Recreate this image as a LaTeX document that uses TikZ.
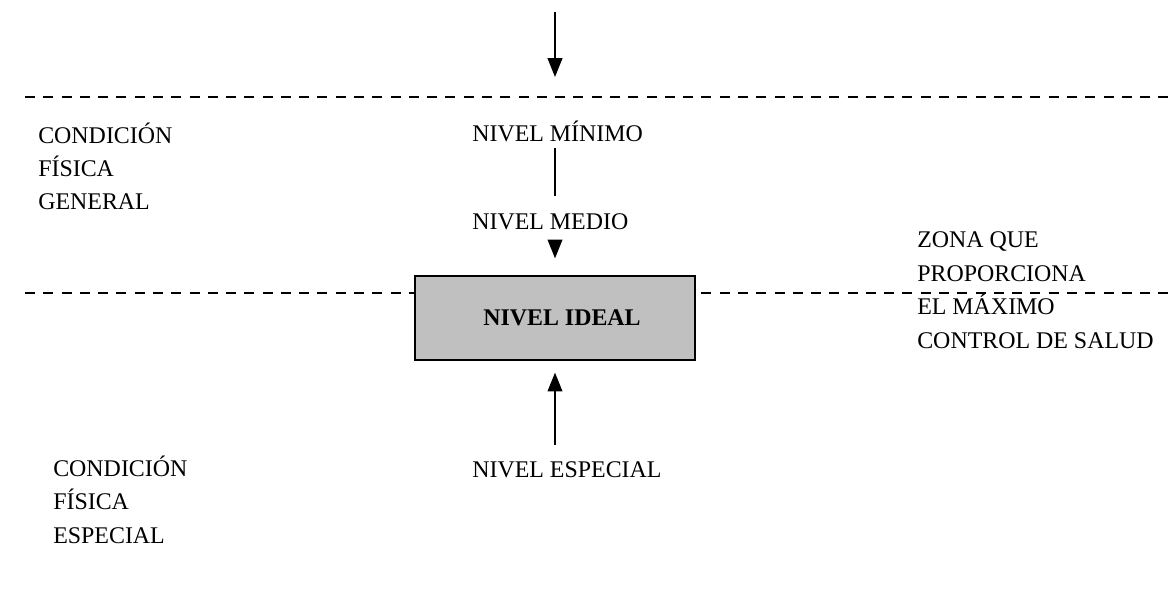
\documentclass[tikz,border=0pt]{standalone}
\usepackage{fontspec}
\setmainfont{Liberation Serif}
\usepackage{xcolor}
\usetikzlibrary{arrows.meta}
\definecolor{boxgray}{RGB}{192,192,192}

\begin{document}
\begin{tikzpicture}[x=0.025cm, y=-0.025cm,
    lbl/.style={anchor=base west, inner sep=0pt, align=left, font=\fontsize{17}{23.8}\selectfont},
    zone/.style={draw, line width=2.1pt, dash pattern=on 7.1pt off 5.9pt},
    arr/.style={-{Triangle[length=0.47cm, width=0.37cm]}, line width=0.9pt},
    idealbox/.style={draw, fill=boxgray, line width=0.9pt, minimum width=7cm, minimum height=2.1cm, font=\bfseries\fontsize{17}{20}\selectfont}]

    \useasboundingbox (0,0) rectangle (1175,590);

    % limites de zona
    \coordinate (z1w) at (25,97);
    \coordinate (z1e) at (1175,97);
    \coordinate (z2w) at (25,293);
    \coordinate (z2e) at (1175,293);
    \draw[zone] (z1w) -- (z1e);
    \draw[zone] (z2w) -- (z2e);

    \node[idealbox] (ideal) at (555,318) {\hspace*{0.35cm}NIVEL IDEAL};

    \node[lbl] (minimo) at (472,142) {NIVEL MÍNIMO};
    \node[lbl] (medio) at (472,230) {NIVEL MEDIO};
    \node[lbl] (especial) at (472,477) {NIVEL ESPECIAL};

    % el ancla base va a la ultima linea
    \node[lbl] (general) at (38,210) {CONDICIÓN\\FÍSICA\\GENERAL};
    \node[lbl] (espfis) at (53,543) {CONDICIÓN\\FÍSICA\\ESPECIAL};
    \node[lbl] (zona) at (917,348) {ZONA QUE\\PROPORCIONA\\EL MÁXIMO\\CONTROL DE SALUD};

    % flechas
    \coordinate (entrada) at (555,12);
    \coordinate (tope) at (555,77);
    \draw[arr] (entrada) -- (tope);
    \draw[line width=0.9pt, shorten <=0.125cm, shorten >=0.45cm] (minimo.south -| ideal) -- (medio.north -| ideal);
    \draw[arr, shorten <=0.25cm, shorten >=0.425cm] (medio.south -| ideal) -- (ideal.north);
    \draw[arr, shorten <=0.4cm, shorten >=0.3cm] (especial.north -| ideal) -- (ideal.south);
\end{tikzpicture}
\end{document}
